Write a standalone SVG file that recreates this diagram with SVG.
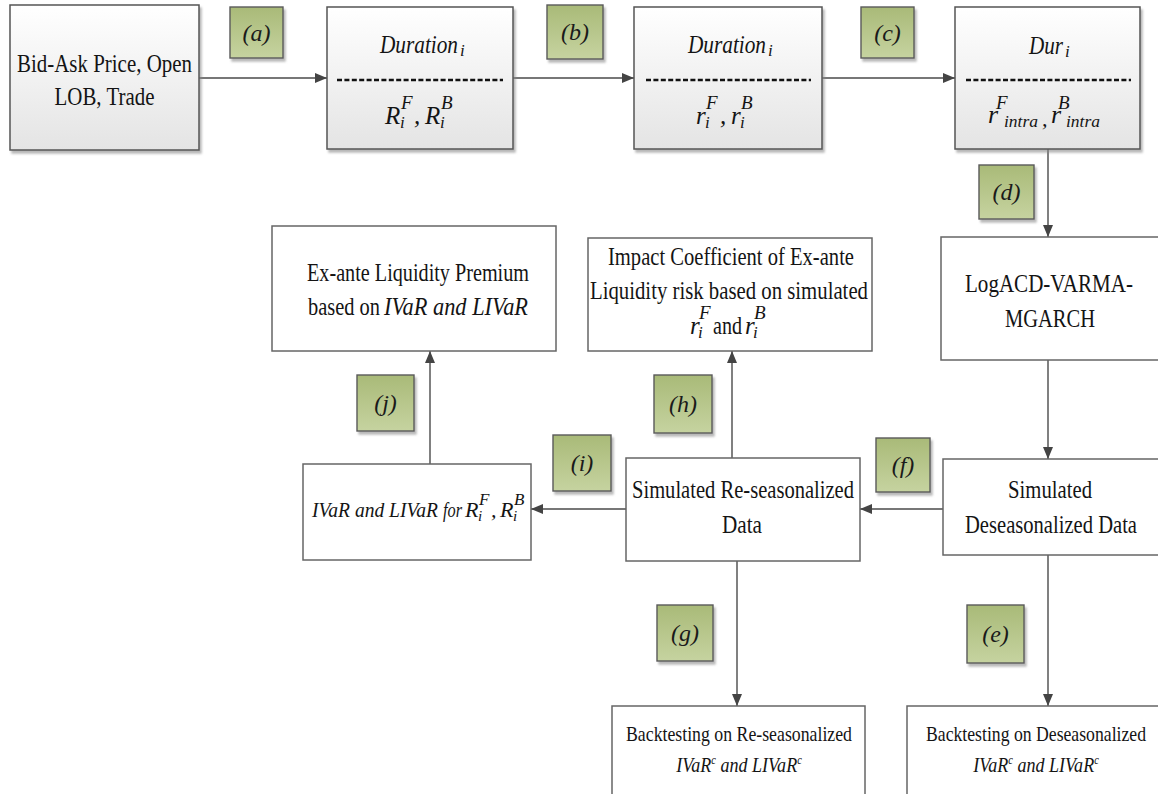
<svg xmlns="http://www.w3.org/2000/svg" width="1158" height="794" viewBox="0 0 1158 794">
<defs>
<linearGradient id="gBox" x1="0" y1="0" x2="0" y2="1">
<stop offset="0" stop-color="#ffffff"/><stop offset="1" stop-color="#e4e4e4"/>
</linearGradient>
<linearGradient id="gLab" x1="0" y1="0" x2="0" y2="1">
<stop offset="0" stop-color="#a9ba78"/><stop offset="1" stop-color="#c6d3a0"/>
</linearGradient>
<filter id="sh" x="-10%" y="-10%" width="130%" height="130%">
<feDropShadow dx="2" dy="3" stdDeviation="1.2" flood-color="#888" flood-opacity="0.6"/>
</filter>
<marker id="ah" viewBox="0 0 12 10" refX="12" refY="5" markerWidth="12" markerHeight="10" markerUnits="userSpaceOnUse" orient="auto">
<path d="M0,0 L12,5 L0,10 Z" fill="#444"/>
</marker>
</defs>
<style>
.t{font-family:"Liberation Serif","Times New Roman",serif;fill:#141414;}
.i{font-style:italic;}
.top{fill:url(#gBox);stroke:#555;stroke-width:1.5;filter:url(#sh);}
.box{fill:#fff;stroke:#666;stroke-width:1.5;}
.lab{fill:url(#gLab);stroke:#5a5a5a;stroke-width:1.4;filter:url(#sh);}
.lt{font-family:"Liberation Serif","Times New Roman",serif;font-style:italic;font-size:24px;fill:#1a1a1a;}
.dash{stroke:#111;stroke-width:2.6;stroke-dasharray:5 2.4;}
.c{stroke:#4a4a4a;stroke-width:1.4;fill:none;marker-end:url(#ah);}
</style>
<rect width="1158" height="794" fill="#fff"/>

<g id="connectors">
<line class="c" x1="199" y1="78" x2="327" y2="78"/>
<line class="c" x1="513" y1="78" x2="634" y2="78"/>
<line class="c" x1="822" y1="78" x2="955" y2="78"/>
<line class="c" x1="1048" y1="149" x2="1048" y2="237"/>
<line class="c" x1="1048" y1="360" x2="1048" y2="459"/>
<line class="c" x1="943" y1="509" x2="860" y2="509"/>
<line class="c" x1="626" y1="509" x2="531" y2="509"/>
<line class="c" x1="732" y1="458" x2="732" y2="351"/>
<line class="c" x1="430" y1="464" x2="430" y2="351"/>
<line class="c" x1="737" y1="561" x2="737" y2="706"/>
<line class="c" x1="1048" y1="555" x2="1048" y2="706"/>
</g>

<g id="n-input">
<rect class="top" x="10" y="5" width="189" height="145"/>
<text class="t" x="104.5" y="72" font-size="26" text-anchor="middle" textLength="175" lengthAdjust="spacingAndGlyphs">Bid-Ask Price, Open</text>
<text class="t" x="104.5" y="105" font-size="26" text-anchor="middle" textLength="100" lengthAdjust="spacingAndGlyphs">LOB, Trade</text>
</g>

<g id="n-duration1">
<rect class="top" x="327" y="7" width="186" height="142"/>
<text class="t i" x="380" y="53" font-size="26" textLength="78" lengthAdjust="spacingAndGlyphs">Duration</text>
<text class="t i" x="460" y="56" font-size="17">i</text>
<line class="dash" x1="337" y1="80" x2="503" y2="80"/>
<text class="t i" x="385" y="124" font-size="25">R</text>
<text class="t i" x="400" y="128" font-size="17">i</text>
<text class="t i" x="401" y="109" font-size="19">F</text>
<text class="t i" x="414" y="124" font-size="25">,</text>
<text class="t i" x="425" y="124" font-size="25">R</text>
<text class="t i" x="440" y="128" font-size="17">i</text>
<text class="t i" x="441" y="109" font-size="19">B</text>
</g>

<g id="n-duration2">
<rect class="top" x="634" y="7" width="188" height="142"/>
<text class="t i" x="688" y="53" font-size="26" textLength="78" lengthAdjust="spacingAndGlyphs">Duration</text>
<text class="t i" x="768" y="56" font-size="17">i</text>
<line class="dash" x1="646" y1="80" x2="811" y2="80"/>
<text class="t i" x="696" y="124" font-size="25">r</text>
<text class="t i" x="705" y="128" font-size="17">i</text>
<text class="t i" x="706" y="109" font-size="19">F</text>
<text class="t i" x="720" y="124" font-size="25">,</text>
<text class="t i" x="731" y="124" font-size="25">r</text>
<text class="t i" x="740" y="128" font-size="17">i</text>
<text class="t i" x="741" y="109" font-size="19">B</text>
</g>

<g id="n-dur">
<rect class="top" x="955" y="7" width="185" height="142"/>
<text class="t i" x="1029" y="54" font-size="26" textLength="34" lengthAdjust="spacingAndGlyphs">Dur</text>
<text class="t i" x="1065" y="57" font-size="17">i</text>
<line class="dash" x1="966" y1="80" x2="1131" y2="80"/>
<text class="t i" x="988" y="123" font-size="26">r</text>
<text class="t i" x="996" y="109" font-size="19">F</text>
<text class="t i" x="1004" y="127" font-size="17" textLength="34" lengthAdjust="spacingAndGlyphs">intra</text>
<text class="t i" x="1042" y="126" font-size="22">,</text>
<text class="t i" x="1051" y="123" font-size="26">r</text>
<text class="t i" x="1058" y="109" font-size="19">B</text>
<text class="t i" x="1066" y="127" font-size="17" textLength="34" lengthAdjust="spacingAndGlyphs">intra</text>
</g>

<g id="n-logacd">
<rect class="box" x="941" y="237" width="218" height="123"/>
<text class="t" x="1049" y="292" font-size="25" text-anchor="middle" textLength="168" lengthAdjust="spacingAndGlyphs">LogACD-VARMA-</text>
<text class="t" x="1050" y="327" font-size="25" text-anchor="middle" textLength="90" lengthAdjust="spacingAndGlyphs">MGARCH</text>
</g>

<g id="n-simdes">
<rect class="box" x="943" y="459" width="216" height="96"/>
<text class="t" x="1050" y="498" font-size="25" text-anchor="middle" textLength="84" lengthAdjust="spacingAndGlyphs">Simulated</text>
<text class="t" x="1051" y="533" font-size="25" text-anchor="middle" textLength="172" lengthAdjust="spacingAndGlyphs">Deseasonalized Data</text>
</g>

<g id="n-simres">
<rect class="box" x="626" y="458" width="234" height="103"/>
<text class="t" x="743" y="498" font-size="25" text-anchor="middle" textLength="222" lengthAdjust="spacingAndGlyphs">Simulated Re-seasonalized</text>
<text class="t" x="742" y="533" font-size="25" text-anchor="middle" textLength="40" lengthAdjust="spacingAndGlyphs">Data</text>
</g>

<g id="n-ivar">
<rect class="box" x="303" y="464" width="228" height="96"/>
<text class="t i" x="312" y="517" font-size="22" textLength="126" lengthAdjust="spacingAndGlyphs">IVaR and LIVaR</text>
<text class="t i" x="443" y="517" font-size="22" textLength="19" lengthAdjust="spacingAndGlyphs">for</text>
<text class="t i" x="465" y="517" font-size="22">R</text>
<text class="t i" x="478" y="521" font-size="15">i</text>
<text class="t i" x="479" y="505" font-size="17">F</text>
<text class="t i" x="491" y="517" font-size="22">,</text>
<text class="t i" x="500" y="517" font-size="22">R</text>
<text class="t i" x="513" y="521" font-size="15">i</text>
<text class="t i" x="514" y="505" font-size="17">B</text>
</g>

<g id="n-premium">
<rect class="box" x="272" y="226" width="284" height="125"/>
<text class="t" x="418" y="281" font-size="25" text-anchor="middle" textLength="222" lengthAdjust="spacingAndGlyphs">Ex-ante Liquidity Premium</text>
<text class="t" x="308" y="315" font-size="25" textLength="72" lengthAdjust="spacingAndGlyphs">based on</text>
<text class="t i" x="384" y="315" font-size="25" textLength="144" lengthAdjust="spacingAndGlyphs">IVaR and LIVaR</text>
</g>

<g id="n-impact">
<rect class="box" x="588" y="238" width="284" height="113"/>
<text class="t" x="731" y="265" font-size="25" text-anchor="middle" textLength="246" lengthAdjust="spacingAndGlyphs">Impact Coefficient of Ex-ante</text>
<text class="t" x="729" y="299" font-size="25" text-anchor="middle" textLength="278" lengthAdjust="spacingAndGlyphs">Liquidity risk based on simulated</text>
<text class="t i" x="690" y="334" font-size="25">r</text>
<text class="t i" x="698" y="338" font-size="17">i</text>
<text class="t i" x="699" y="319" font-size="19">F</text>
<text class="t" x="713" y="334" font-size="25" textLength="29" lengthAdjust="spacingAndGlyphs">and</text>
<text class="t i" x="745" y="334" font-size="25">r</text>
<text class="t i" x="753" y="338" font-size="17">i</text>
<text class="t i" x="754" y="319" font-size="19">B</text>
</g>

<g id="n-backre">
<rect class="box" x="612" y="706" width="253" height="95"/>
<text class="t" x="739" y="741" font-size="21" text-anchor="middle" textLength="226" lengthAdjust="spacingAndGlyphs">Backtesting on Re-seasonalized</text>
<text class="t i" transform="translate(739,772) scale(0.86,1)" font-size="21" text-anchor="middle">IVaR<tspan dy="-8" font-size="12">c</tspan><tspan dy="8"> and LIVaR</tspan><tspan dy="-8" font-size="12">c</tspan></text>
</g>

<g id="n-backde">
<rect class="box" x="907" y="706" width="252" height="95"/>
<text class="t" x="1036" y="741" font-size="21" text-anchor="middle" textLength="220" lengthAdjust="spacingAndGlyphs">Backtesting on Deseasonalized</text>
<text class="t i" transform="translate(1036,772) scale(0.86,1)" font-size="21" text-anchor="middle">IVaR<tspan dy="-8" font-size="12">c</tspan><tspan dy="8"> and LIVaR</tspan><tspan dy="-8" font-size="12">c</tspan></text>
</g>

<g id="lab-a"><rect class="lab" x="230" y="7" width="53" height="51"/><text class="lt" x="256.5" y="41" text-anchor="middle">(a)</text></g>
<g id="lab-b"><rect class="lab" x="547" y="5" width="56" height="54"/><text class="lt" x="575" y="40" text-anchor="middle">(b)</text></g>
<g id="lab-c"><rect class="lab" x="861" y="7" width="53" height="51"/><text class="lt" x="887.5" y="41" text-anchor="middle">(c)</text></g>
<g id="lab-d"><rect class="lab" x="979" y="165" width="55" height="54"/><text class="lt" x="1006.5" y="200" text-anchor="middle">(d)</text></g>
<g id="lab-e"><rect class="lab" x="967" y="605" width="57" height="58"/><text class="lt" x="995.5" y="642" text-anchor="middle">(e)</text></g>
<g id="lab-f"><rect class="lab" x="876" y="438" width="54" height="54"/><text class="lt" x="903" y="473" text-anchor="middle">(f)</text></g>
<g id="lab-g"><rect class="lab" x="657" y="605" width="56" height="56"/><text class="lt" x="685" y="641" text-anchor="middle">(g)</text></g>
<g id="lab-h"><rect class="lab" x="654" y="375" width="58" height="58"/><text class="lt" x="683" y="412" text-anchor="middle">(h)</text></g>
<g id="lab-i"><rect class="lab" x="553" y="435" width="58" height="56"/><text class="lt" x="582" y="471" text-anchor="middle">(i)</text></g>
<g id="lab-j"><rect class="lab" x="357" y="375" width="57" height="56"/><text class="lt" x="385.5" y="411" text-anchor="middle">(j)</text></g>
</svg>
